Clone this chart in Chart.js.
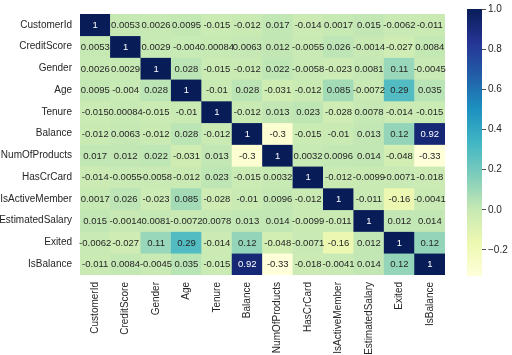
<!DOCTYPE html>
<html>
<head>
<meta charset="utf-8">
<script src="https://cdn.jsdelivr.net/npm/chart.js@4/dist/chart.umd.min.js"></script>
<style>
  html, body { margin: 0; padding: 0; background: #fff; }
  #wrap { position: relative; width: 512px; height: 355px; }
  #main { position: absolute; left: 0; top: 0; }
  #cbar { position: absolute; left: 455px; top: 0; }
</style>
</head>
<body>
<div id="wrap">
  <canvas id="main" width="450" height="355"></canvas>
  <canvas id="cbar" width="57" height="355"></canvas>
</div>
<script>
const features = ["CustomerId","CreditScore","Gender","Age","Tenure","Balance","NumOfProducts","HasCrCard","IsActiveMember","EstimatedSalary","Exited","IsBalance"];

const customerId      = [1, 0.0053, 0.0026, 0.0095, -0.015, -0.012, 0.017, -0.014, 0.0017, 0.015, -0.0062, -0.011];
const creditScore     = [0.0053, 1, 0.0029, -0.004, 0.00084, 0.0063, 0.012, -0.0055, 0.026, -0.0014, -0.027, 0.0084];
const gender          = [0.0026, 0.0029, 1, 0.028, -0.015, -0.012, 0.022, -0.0058, -0.023, 0.0081, 0.11, -0.0045];
const age             = [0.0095, -0.004, 0.028, 1, -0.01, 0.028, -0.031, -0.012, 0.085, -0.0072, 0.29, 0.035];
const tenure          = [-0.015, 0.00084, -0.015, -0.01, 1, -0.012, 0.013, 0.023, -0.028, 0.0078, -0.014, -0.015];
const balance         = [-0.012, 0.0063, -0.012, 0.028, -0.012, 1, -0.3, -0.015, -0.01, 0.013, 0.12, 0.92];
const numOfProducts   = [0.017, 0.012, 0.022, -0.031, 0.013, -0.3, 1, 0.0032, 0.0096, 0.014, -0.048, -0.33];
const hasCrCard       = [-0.014, -0.0055, -0.0058, -0.012, 0.023, -0.015, 0.0032, 1, -0.012, -0.0099, -0.0071, -0.018];
const isActiveMember  = [0.0017, 0.026, -0.023, 0.085, -0.028, -0.01, 0.0096, -0.012, 1, -0.011, -0.16, -0.0041];
const estimatedSalary = [0.015, -0.0014, 0.0081, -0.0072, 0.0078, 0.013, 0.014, -0.0099, -0.011, 1, 0.012, 0.014];
const exited          = [-0.0062, -0.027, 0.11, 0.29, -0.014, 0.12, -0.048, -0.0071, -0.16, 0.012, 1, 0.12];
const isBalance       = [-0.011, 0.0084, -0.0045, 0.035, -0.015, 0.92, -0.33, -0.018, -0.0041, 0.014, 0.12, 1];

const colorbarTicks = [-0.2, 0.0, 0.2, 0.4, 0.6, 0.8, 1.0];

const matrix = [customerId, creditScore, gender, age, tenure, balance, numOfProducts, hasCrCard, isActiveMember, estimatedSalary, exited, isBalance];

const vmin = Math.min(...matrix.flat());
const vmax = Math.max(...matrix.flat());

// YlGnBu colormap stops
const ylgnbu = ["#ffffd9","#edf8b1","#c7e9b4","#7fcdbb","#41b6c4","#1d91c0","#225ea8","#253494","#081d58"];
const stopsRGB = ylgnbu.map(h => [parseInt(h.slice(1,3),16), parseInt(h.slice(3,5),16), parseInt(h.slice(5,7),16)]);
function cmapRGB(v) {
  let t = (v - vmin) / (vmax - vmin);
  t = Math.max(0, Math.min(1, t));
  const pos = t * (stopsRGB.length - 1);
  const i = Math.min(Math.floor(pos), stopsRGB.length - 2);
  const f = pos - i;
  const a = stopsRGB[i], b = stopsRGB[i+1];
  return [0,1,2].map(k => Math.round(a[k] + (b[k]-a[k]) * f));
}
function cmap(v) { const c = cmapRGB(v); return `rgb(${c[0]},${c[1]},${c[2]})`; }
function luminance(c) {
  const l = c.map(x => { x /= 255; return x <= 0.03928 ? x/12.92 : Math.pow((x+0.055)/1.055, 2.4); });
  return 0.2126*l[0] + 0.7152*l[1] + 0.0722*l[2];
}
function fmt(v) { return String(Number(v.toPrecision(2))); }

const n = features.length;
const datasets = matrix.map((row, r) => ({
  label: features[r],
  data: features.map(() => [n - 1 - r, n - r]),
  backgroundColor: row.map(cmap),
  borderWidth: 0,
  barPercentage: 1.0,
  categoryPercentage: 1.0,
  grouped: false
}));

const textColor = '#262626';
const fontFamily = "'Liberation Sans', Arial, sans-serif";

const annotPlugin = {
  id: 'annot',
  afterDatasetsDraw(chart) {
    const ctx = chart.ctx;
    const xs = chart.scales.x, ys = chart.scales.y;
    ctx.save();
    ctx.font = `9.5px ${fontFamily}`;
    ctx.textAlign = 'center';
    ctx.textBaseline = 'middle';
    matrix.forEach((row, r) => {
      row.forEach((v, c) => {
        const x = xs.getPixelForValue(c);
        const y = ys.getPixelForValue(n - r - 0.5);
        ctx.fillStyle = luminance(cmapRGB(v)) > 0.408 ? textColor : '#ffffff';
        ctx.fillText(fmt(v), x, y + 0.5);
      });
    });
    ctx.restore();
  }
};

new Chart(document.getElementById('main'), {
  type: 'bar',
  data: { labels: features, datasets },
  plugins: [annotPlugin],
  options: {
    responsive: false,
    animation: false,
    layout: { padding: { top: 9, right: 5, left: 0, bottom: 0 } },
    plugins: { legend: { display: false }, tooltip: { enabled: false } },
    scales: {
      x: {
        type: 'category',
        offset: true,
        grid: { display: false, drawTicks: false },
        border: { display: false },
        ticks: { color: textColor, font: { family: fontFamily, size: 10 }, minRotation: 90, maxRotation: 90, padding: 7, autoSkip: false },
        afterFit(axis) { axis.height = 80; }
      },
      y: {
        type: 'linear',
        min: 0, max: n,
        grid: { display: false, drawTicks: false },
        border: { display: false },
        afterBuildTicks(axis) { axis.ticks = features.map((_, i) => ({ value: n - i - 0.5 })); },
        ticks: {
          color: textColor, font: { family: fontFamily, size: 10 }, padding: 8, autoSkip: false,
          callback(value) { return features[Math.round(n - 0.5 - value)]; }
        },
        afterFit(axis) { axis.width = 80; }
      }
    }
  }
});

// Colorbar
new Chart(document.getElementById('cbar'), {
  type: 'bar',
  data: {
    labels: ['cb'],
    datasets: [{
      data: [[vmin, vmax]],
      borderWidth: 0,
      barPercentage: 1.0,
      categoryPercentage: 1.0,
      backgroundColor(context) {
        const area = context.chart.chartArea;
        if (!area) return ylgnbu[4];
        const ys = context.chart.scales.y;
        const g = context.chart.ctx.createLinearGradient(0, ys.getPixelForValue(vmin), 0, ys.getPixelForValue(vmax));
        ylgnbu.forEach((c, i) => g.addColorStop(i / (ylgnbu.length - 1), c));
        return g;
      }
    }]
  },
  options: {
    responsive: false,
    animation: false,
    layout: { padding: { top: 9, left: 12, right: 0, bottom: 79 } },
    plugins: { legend: { display: false }, tooltip: { enabled: false } },
    scales: {
      x: { display: false, offset: true },
      y: {
        position: 'right',
        min: vmin, max: vmax,
        grid: { drawOnChartArea: false, drawTicks: true, tickLength: 4, color: '#262626', lineWidth: 0.8 },
        border: { display: false },
        afterBuildTicks(axis) { axis.ticks = colorbarTicks.map(v => ({ value: v })); },
        ticks: {
          color: textColor, font: { family: fontFamily, size: 10 }, padding: 2,
          callback(v) { return (v < 0 ? '\u2212' : '') + Math.abs(v).toFixed(1); }
        },
        afterFit(axis) { axis.width = 30; }
      }
    }
  }
});
</script>
</body>
</html>
